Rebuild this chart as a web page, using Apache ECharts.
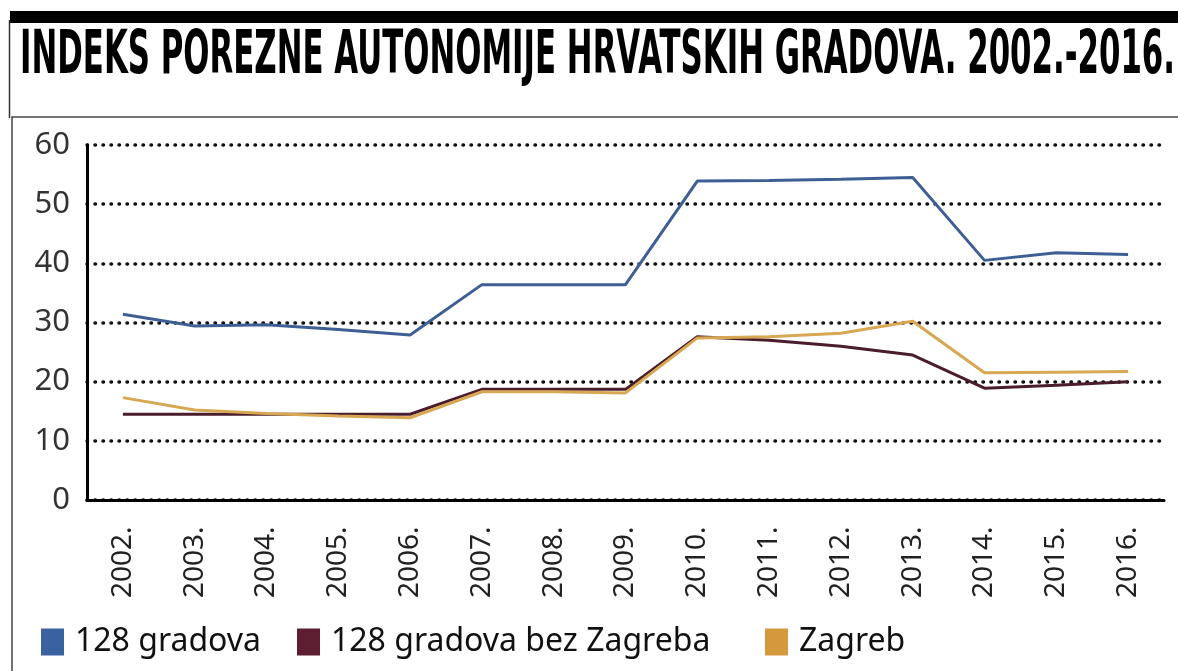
<!DOCTYPE html>
<html>
<head>
<meta charset="utf-8">
<script src="https://cdn.jsdelivr.net/npm/echarts@6/dist/echarts.min.js"></script>
<style>
  html, body { margin: 0; padding: 0; background: #fff; }
  #chart { width: 1178px; height: 671px; }
</style>
</head>
<body>
<div id="chart"></div>
<script>
// godine
var years = ["2002.", "2003.", "2004.", "2005.", "2006.", "2007.", "2008.", "2009.",
  "2010.", "2011.", "2012.", "2013.", "2014.", "2015.", "2016."];

// indeks porezne autonomije
var sviGradovi = [31.4, 29.4, 29.6, 28.8, 27.9, 36.4, 36.4, 36.4, 53.9, 54.0, 54.2, 54.5, 40.5, 41.8, 41.5];
var bezZagreba = [14.5, 14.5, 14.5, 14.5, 14.5, 18.7, 18.7, 18.7, 27.6, 27.0, 26.0, 24.5, 18.9, 19.4, 20.0];
var zagreb = [17.3, 15.2, 14.6, 14.2, 13.9, 18.3, 18.3, 18.1, 27.4, 27.6, 28.2, 30.2, 21.5, 21.6, 21.7];

var yTicks = [0, 10, 20, 30, 40, 50, 60];

var seriesNames = ["128 gradova", "128 gradova bez Zagreba", "Zagreb"];

var titleText = "INDEKS POREZNE AUTONOMIJE HRVATSKIH GRADOVA. 2002.-2016.";
var titleFont = 'bold 60px "DejaVu Sans"';

// sirina naslova -> stisnuti ga vodoravno
var ctx = document.createElement("canvas").getContext("2d");
ctx.font = titleFont;
var titleScale = 1155 / ctx.measureText(titleText).width;

var chart = echarts.init(document.getElementById("chart"));

function legendItem(name, left) {
  return {
    data: [name],
    left: left,
    top: 621,
    icon: "rect",
    itemWidth: 23,
    itemHeight: 27,
    selectedMode: false,
    textStyle: {
      fontFamily: "Noto Sans",
      fontSize: 32,
      color: "#111",
      padding: [0, 0, 0, 6]
    }
  };
}

var option = {
  animation: false,
  backgroundColor: "#fff",
  graphic: [
    { type: "rect", shape: { x: 10, y: 11, width: 1170, height: 12 }, style: { fill: "#000" } },
    { type: "line", shape: { x1: 9.5, y1: 20, x2: 9.5, y2: 118 }, style: { stroke: "#333", lineWidth: 1.5 } },
    { type: "rect", shape: { x: 12, y: 117, width: 1180, height: 600 }, style: { fill: "none", stroke: "#444", lineWidth: 1.5 } },
    {
      type: "text",
      x: 20,
      y: 57,
      scaleX: titleScale,
      style: {
        text: titleText,
        font: titleFont,
        fill: "#000",
        verticalAlign: "middle",
        align: "left"
      }
    }
  ],
  legend: [
    legendItem(seriesNames[0], 36),
    legendItem(seriesNames[1], 292),
    legendItem(seriesNames[2], 760)
  ],
  grid: {
    left: 87,
    right: 14,
    top: 145,
    bottom: 171
  },
  xAxis: {
    type: "category",
    data: years,
    boundaryGap: true,
    axisLine: { lineStyle: { color: "#000", width: 3 } },
    axisTick: { show: false },
    axisLabel: {
      rotate: 90,
      align: "left",
      margin: 98,
      fontFamily: "Noto Sans",
      fontSize: 28,
      color: "#222"
    }
  },
  yAxis: {
    type: "value",
    min: yTicks[0],
    max: yTicks[yTicks.length - 1],
    interval: 10,
    axisLine: { show: true, lineStyle: { color: "#000", width: 3 } },
    axisTick: { show: false },
    axisLabel: {
      margin: 17,
      fontFamily: "Noto Sans",
      fontSize: 31,
      color: "#333"
    },
    splitLine: {
      lineStyle: { color: "#111", width: 3.5, type: [0.5, 7.5], cap: "round" }
    }
  },
  series: [
    {
      name: seriesNames[0],
      type: "line",
      data: sviGradovi,
      symbol: "none",
      itemStyle: { color: "#3a62a0" },
      lineStyle: { color: "#3d5f93", width: 3 }
    },
    {
      name: seriesNames[1],
      type: "line",
      data: bezZagreba,
      symbol: "none",
      itemStyle: { color: "#5e1e32" },
      lineStyle: { color: "#4a1d2d", width: 3 }
    },
    {
      name: seriesNames[2],
      type: "line",
      data: zagreb,
      symbol: "none",
      itemStyle: { color: "#d4993c" },
      lineStyle: { color: "#d8a752", width: 3 }
    }
  ]
};

chart.setOption(option);
window.addEventListener("resize", function () { chart.resize(); });
</script>
</body>
</html>
